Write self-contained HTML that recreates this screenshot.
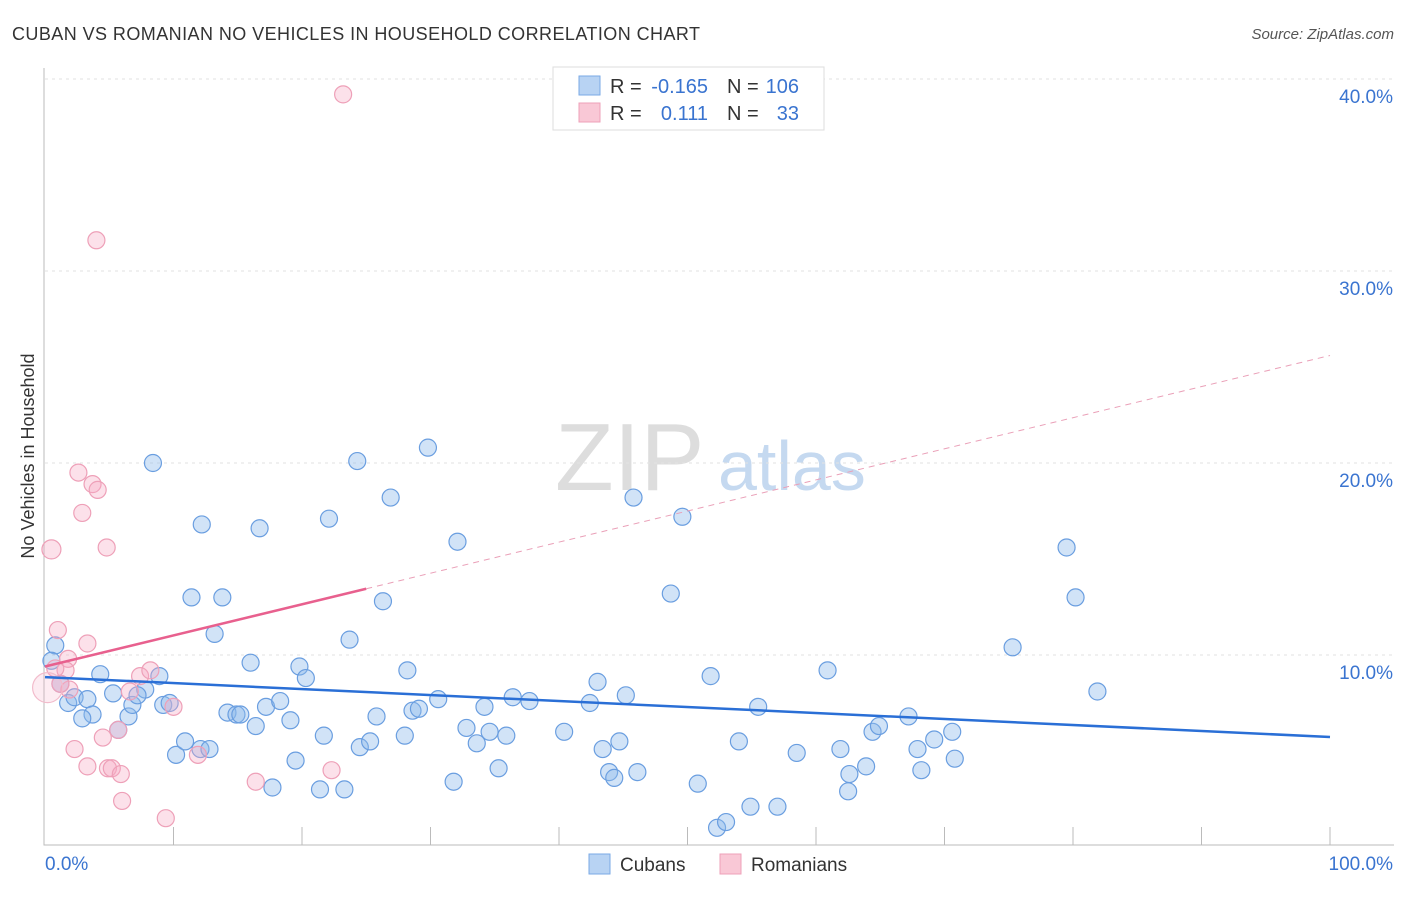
<!DOCTYPE html>
<html><head><meta charset="utf-8"><style>
body{margin:0;background:#fff;font-family:"Liberation Sans",sans-serif;}
svg text{font-family:"Liberation Sans",sans-serif;}
</style></head><body>
<svg id="chart" width="1406" height="892" viewBox="0 0 1406 892" xmlns="http://www.w3.org/2000/svg">
<text x="12" y="40" font-size="18" fill="#333" textLength="688">CUBAN VS ROMANIAN NO VEHICLES IN HOUSEHOLD CORRELATION CHART</text>
<text x="1394" y="39" font-size="15" fill="#555" font-style="italic" text-anchor="end">Source: ZipAtlas.com</text>
<g>
<text x="555" y="490" font-size="96" fill="#ddd" font-family="Liberation Serif,serif">ZIP</text>
<text x="718" y="490" font-size="70" fill="#c5d9f0">atlas</text>
</g>
<text transform="translate(34,456) rotate(-90)" font-size="18" fill="#333" text-anchor="middle">No Vehicles in Household</text>
<g id="grid"></g>
<g id="axes"></g>
<g id="pts"></g>
<g id="lines"></g>
<g>
<rect x="553" y="67" width="271" height="63" fill="#fff" stroke="#ddd"/>
<rect x="579" y="76" width="21" height="19" fill="#b8d3f3" stroke="#7aa9e6"/>
<rect x="579" y="103" width="21" height="19" fill="#f9c8d6" stroke="#eea0b8"/>
<text x="610" y="93" font-size="20" fill="#333">R =</text>
<text x="708" y="93" font-size="20" fill="#3a74d0" text-anchor="end">-0.165</text>
<text x="727" y="93" font-size="20" fill="#333">N =</text>
<text x="799" y="93" font-size="20" fill="#3a74d0" text-anchor="end">106</text>
<text x="610" y="120" font-size="20" fill="#333">R =</text>
<text x="708" y="120" font-size="20" fill="#3a74d0" text-anchor="end">0.111</text>
<text x="727" y="120" font-size="20" fill="#333">N =</text>
<text x="799" y="120" font-size="20" fill="#3a74d0" text-anchor="end">33</text>
</g>
<g>
<rect x="589" y="854" width="21" height="20" fill="#b8d3f3" stroke="#7aa9e6"/>
<text x="620" y="871" font-size="19" fill="#333">Cubans</text>
<rect x="720" y="854" width="21" height="20" fill="#f9c8d6" stroke="#eea0b8"/>
<text x="751" y="871" font-size="19" fill="#333">Romanians</text>
</g>
</svg>
<script>
const yTicks=[10,20,30,40];
const xLabels=["0.0%","100.0%"];
const cubanX=[0.8,0.5,1.2,1.8,2.3,3.3,3.7,2.9,4.3,5.3,6.5,5.7,6.8,7.8,7.2,8.4,8.9,9.2,9.7,10.2,10.9,12.1,12.8,11.4,12.2,13.8,13.2,14.2,14.9,15.2,16.4,16.0,16.7,17.2,17.7,18.3,19.1,19.5,19.8,20.3,21.4,21.7,22.1,23.3,23.7,24.3,24.5,25.3,25.8,26.3,26.9,28.0,28.2,28.6,29.1,29.8,30.6,31.8,32.1,32.8,33.6,34.2,34.6,35.3,35.9,36.4,37.7,40.4,42.4,43.0,43.4,43.9,44.3,44.7,45.2,45.8,46.1,48.7,49.6,50.8,51.8,52.3,53.0,54.9,55.5,54.0,57.0,58.5,60.9,61.9,62.5,62.6,63.9,64.4,64.9,67.2,67.9,68.2,69.2,70.6,70.8,75.3,79.5,80.2,81.9];
const cubanY=[10.5,9.7,8.5,7.5,7.8,7.7,6.9,6.7,9.0,8.0,6.8,6.1,7.4,8.2,7.9,20.0,8.9,7.4,7.5,4.8,5.5,5.1,5.1,13.0,16.8,13.0,11.1,7.0,6.9,6.9,6.3,9.6,16.6,7.3,3.1,7.6,6.6,4.5,9.4,8.8,3.0,5.8,17.1,3.0,10.8,20.1,5.2,5.5,6.8,12.8,18.2,5.8,9.2,7.1,7.2,20.8,7.7,3.4,15.9,6.2,5.4,7.3,6.0,4.1,5.8,7.8,7.6,6.0,7.5,8.6,5.1,3.9,3.6,5.5,7.9,18.2,3.9,13.2,17.2,3.3,8.9,1.0,1.3,2.1,7.3,5.5,2.1,4.9,9.2,5.1,2.9,3.8,4.2,6.0,6.3,6.8,5.1,4.0,5.6,6.0,4.6,10.4,15.6,13.0,8.1];
const romX=[23.2,4.0,2.6,3.7,4.1,2.9,4.8,0.5,1.0,3.3,1.8,1.6,0.8,1.9,1.2,6.6,7.4,8.2,10.0,5.7,4.5,2.3,3.3,4.9,5.2,5.9,11.9,16.4,22.3,6.0,9.4,0.2];
const romY=[39.2,31.6,19.5,18.9,18.6,17.4,15.6,15.5,11.3,10.6,9.8,9.2,9.3,8.2,8.5,8.1,8.9,9.2,7.3,6.1,5.7,5.1,4.2,4.1,4.1,3.8,4.8,3.4,4.0,2.4,1.5,8.3];
const cubanTrend=[8.85,5.73];
const romTrend=[9.4,25.6];
const romSolidEnd=25;
const X=v=>45+v*12.85, Y=v=>847-v*19.2;
const NS="http://www.w3.org/2000/svg";
function mk(tag,attrs,parent){const e=document.createElementNS(NS,tag);for(const k in attrs)e.setAttribute(k,attrs[k]);document.getElementById(parent).appendChild(e);return e;}
yTicks.forEach(t=>{
const l=mk('line',{x1:45,x2:1394,y1:Y(t),y2:Y(t),stroke:'#e2e2e2','stroke-dasharray':'3,4'},'grid');


const tx=mk('text',{x:1393,y:Y(t)+24,'font-size':19,fill:'#3a74d0','text-anchor':'end'},'grid');
tx.textContent=t.toFixed(1)+'%';


});
const ax=mk('path',{d:'M44,68 V845 H1394',fill:'none',stroke:'#bbb'},'axes');


for(let i=1;i<=10;i++){const tk=mk('line',{x1:X(i*10),x2:X(i*10),y1:827,y2:845,stroke:'#bbb'},'axes');

}
const xl0=mk('text',{x:45,y:870,'font-size':19,fill:'#3a74d0'},'axes');xl0.textContent=xLabels[0];


const xl1=mk('text',{x:1393,y:870,'font-size':19,fill:'#3a74d0','text-anchor':'end'},'axes');xl1.textContent=xLabels[1];


cubanX.forEach((x,i)=>{const c=mk('circle',{cx:X(x),cy:Y(cubanY[i]),r:8.5,fill:'rgba(140,185,235,0.4)',stroke:'#6a9ee0','stroke-width':1.2},'pts');

});
romX.forEach((x,i)=>{const big=i==romX.length-1;const c=mk('circle',{cx:X(x),cy:Y(romY[i]),r:big?15:(i==7?9.5:8.5),fill:big?'rgba(245,170,195,0.22)':'rgba(245,170,195,0.35)',stroke:big?'#f2bccc':'#eea0b8','stroke-width':1.2},'pts');

});
const bl=mk('line',{x1:X(0),y1:Y(cubanTrend[0]),x2:X(100),y2:Y(cubanTrend[1]),stroke:'#2a6fd6','stroke-width':2.5},'lines');


const ry=v=>romTrend[0]+(romTrend[1]-romTrend[0])*v/100;
const pl=mk('line',{x1:X(0),y1:Y(ry(0)),x2:X(romSolidEnd),y2:Y(ry(romSolidEnd)),stroke:'#e8608e','stroke-width':2.5},'lines');


const pd=mk('line',{x1:X(romSolidEnd),y1:Y(ry(romSolidEnd)),x2:X(100),y2:Y(ry(100)),stroke:'#eaa0b8','stroke-width':1,'stroke-dasharray':'6,5'},'lines');


</script>
</body></html>
